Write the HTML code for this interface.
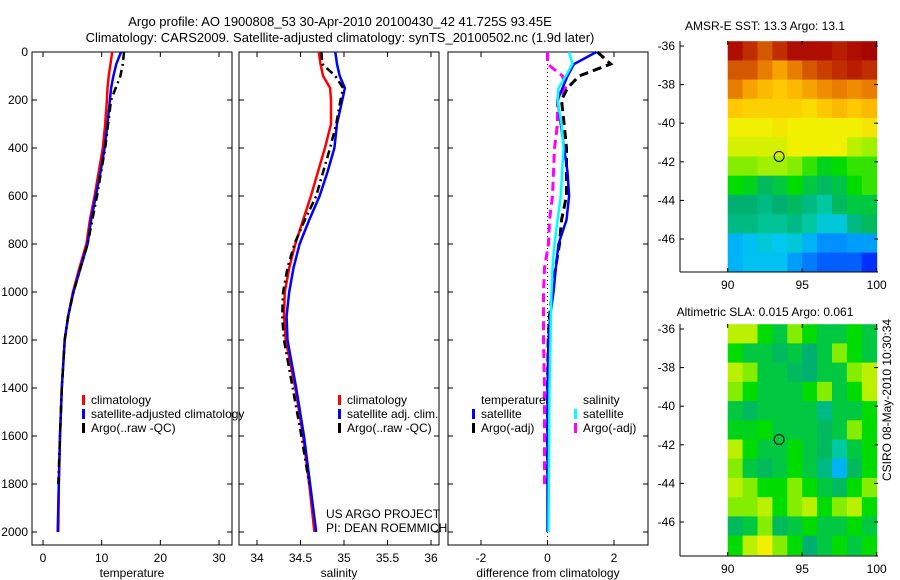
<!DOCTYPE html>
<html><head><meta charset="utf-8">
<style>
html,body{margin:0;padding:0;background:#fff;}
svg{display:block;font-family:"Liberation Sans",sans-serif;}
text{font-size:12px;fill:#000;}
</style></head>
<body>
<svg id="chart" width="900" height="580" viewBox="0 0 900 580" xmlns="http://www.w3.org/2000/svg">
<text x="340" y="26" text-anchor="middle" style="font-size:13px">Argo profile: AO 1900808_53 30-Apr-2010 20100430_42 41.725S 93.45E</text>
<text x="340" y="42" text-anchor="middle" style="font-size:13px">Climatology: CARS2009. Satellite-adjusted climatology: synTS_20100502.nc (1.9d later)</text>
<text x="765" y="30" text-anchor="middle">AMSR-E SST: 13.3 Argo: 13.1</text>
<text x="765" y="316" text-anchor="middle">Altimetric SLA: 0.015 Argo: 0.061</text>
<text transform="translate(891,400) rotate(-90)" text-anchor="middle">CSIRO 08-May-2010 10:30:34</text>
<g id="g"></g>
</svg>
<script>
// ---- data ----
const depths = [0,50,100,150,200,300,400,500,600,700,800,900,1000,1100,1200,1400,1600,1800,2000];
const tempClim = [11.8,11.5,11.2,11.0,10.9,10.6,10.2,9.5,8.8,8.0,7.4,6.2,5.1,4.3,3.7,3.2,2.9,2.7,2.6];
const tempSat  = [13.3,12.5,12.0,11.6,11.4,11.0,10.5,9.8,9.0,8.2,7.6,6.4,5.2,4.3,3.7,3.2,2.9,2.7,2.5];
const tempArgo = [13.8,13.6,13.2,12.4,11.6,11.1,10.6,9.9,9.2,8.4,7.6,6.4,5.2,4.3,3.7,3.2,2.9,2.6,null];
const salClim = [34.71,34.73,34.76,34.84,34.85,34.85,34.78,34.70,34.62,34.53,34.44,34.37,34.32,34.31,34.33,34.44,34.53,34.60,34.66];
const salSat  = [34.90,34.92,34.95,35.01,34.98,34.92,34.89,34.81,34.72,34.60,34.49,34.42,34.37,34.34,34.35,34.45,34.54,34.61,34.68];
const salArgo = [34.74,34.75,34.90,34.99,34.96,34.91,34.84,34.76,34.68,34.55,34.43,34.35,34.30,34.29,34.31,34.41,34.51,34.60,null];
const dTempSat  = [1.47,0.80,0.60,0.45,0.30,0.40,0.50,0.60,0.65,0.57,0.33,0.25,0.18,0.08,0.03,0.0,0.0,0.0,0.0];
const dTempArgo = [1.50,1.90,0.95,0.60,0.42,0.50,0.57,0.57,0.57,0.42,0.36,0.24,0.15,0.06,0.02,0.0,0.0,0.0,null];
const dSalSat   = [0.65,0.75,0.55,0.33,0.30,0.42,0.48,0.44,0.40,0.30,0.21,0.15,0.12,0.10,0.09,0.06,0.05,0.04,0.03];
const dSalArgo  = [0.0,0.0,0.45,0.54,0.30,0.30,0.21,0.18,0.15,0.06,0.03,-0.09,-0.12,-0.12,-0.12,-0.09,-0.09,-0.09,null];
const tempTicks = [0,10,20,30];
const salTicks = [34,34.5,35,35.5,36];
const diffTicks = [-2,0,2];
const depthTicks = [0,200,400,600,800,1000,1200,1400,1600,1800,2000];
const lonTicks = [90,95,100];
const latTicks = [-36,-38,-40,-42,-44,-46];
const sstGrid = [
[0.95,0.90,0.85,0.90,0.95,0.95,0.95,0.92,0.95,0.98],
[0.85,0.85,0.80,0.75,0.80,0.85,0.88,0.90,0.92,0.90],
[0.80,0.75,0.72,0.70,0.72,0.75,0.78,0.80,0.78,0.80],
[0.70,0.68,0.68,0.68,0.68,0.66,0.70,0.72,0.70,0.72],
[0.62,0.62,0.62,0.64,0.62,0.62,0.62,0.62,0.62,0.64],
[0.60,0.60,0.60,0.60,0.62,0.62,0.62,0.62,0.58,0.56],
[0.55,0.55,0.56,0.56,0.55,0.52,0.48,0.50,0.52,0.52],
[0.50,0.48,0.42,0.45,0.50,0.45,0.42,0.44,0.50,0.52],
[0.40,0.40,0.38,0.40,0.42,0.38,0.35,0.42,0.45,0.45],
[0.38,0.38,0.36,0.36,0.38,0.35,0.30,0.30,0.38,0.42],
[0.25,0.27,0.30,0.28,0.30,0.25,0.20,0.20,0.22,0.22],
[0.25,0.27,0.27,0.27,0.22,0.18,0.15,0.15,0.15,0.10]];
const slaGrid = [
[0.58,0.58,0.50,0.45,0.55,0.50,0.45,0.45,0.50,0.45],
[0.50,0.45,0.45,0.42,0.45,0.40,0.45,0.55,0.50,0.45],
[0.58,0.55,0.45,0.45,0.42,0.40,0.45,0.45,0.55,0.58],
[0.55,0.50,0.45,0.45,0.45,0.50,0.55,0.45,0.50,0.58],
[0.45,0.42,0.45,0.45,0.45,0.45,0.38,0.45,0.45,0.50],
[0.48,0.48,0.50,0.45,0.45,0.45,0.42,0.45,0.55,0.50],
[0.58,0.50,0.45,0.45,0.50,0.45,0.42,0.35,0.45,0.50],
[0.55,0.45,0.42,0.45,0.50,0.45,0.38,0.25,0.42,0.50],
[0.58,0.55,0.50,0.50,0.55,0.50,0.45,0.42,0.50,0.55],
[0.55,0.55,0.58,0.50,0.55,0.58,0.50,0.55,0.58,0.50],
[0.42,0.45,0.55,0.42,0.45,0.50,0.45,0.45,0.50,0.45],
[0.50,0.58,0.62,0.55,0.50,0.40,0.45,0.50,0.45,0.50]];
const argoLon = 93.45, argoLat = -41.725;

// ---- drawing ----
const NS='http://www.w3.org/2000/svg';
const G=document.getElementById('g');
function mk(tag,attrs,parent){const e=document.createElementNS(NS,tag);for(const k in attrs)e.setAttribute(k,attrs[k]);(parent||G).appendChild(e);return e;}
const TOP=52, BOT=545;
const yD = d => 52 + d*0.24;
function lin(d0,d1,r0,r1){return v=>r0+(v-d0)*(r1-r0)/(d1-d0);}

function panel(name,x0,x1,xs,ticks,label,fmt){
  const r=mk('rect',{x:x0,y:TOP,width:x1-x0,height:BOT-TOP,fill:'none',stroke:'#000','stroke-width':1});
  
  
  ticks.forEach(t=>{const x=xs(t);
    mk('line',{x1:x,x2:x,y1:BOT,y2:BOT-5,stroke:'#000'});
    mk('line',{x1:x,x2:x,y1:TOP,y2:TOP+5,stroke:'#000'});
    const tx=mk('text',{x:x,y:BOT+17,'text-anchor':'middle'});tx.textContent=fmt(t);
    
    
  });
  depthTicks.forEach(d=>{const y=yD(d);
    mk('line',{x1:x0,x2:x0+5,y1:y,y2:y,stroke:'#000'});
    mk('line',{x1:x1,x2:x1-5,y1:y,y2:y,stroke:'#000'});
  });
  const lt=mk('text',{x:(x0+x1)/2,y:BOT+32,'text-anchor':'middle'});lt.textContent=label;
  
  
}
function series(name,vals,xs,color,dash,w){
  let pts=[];vals.forEach((v,i)=>{if(v!==null)pts.push(xs(v).toFixed(1)+','+yD(depths[i]).toFixed(1));});
  const p=mk('polyline',{points:pts.join(' '),fill:'none',stroke:color,'stroke-width':w||2.5});
  if(dash)p.setAttribute('stroke-dasharray',dash);
  
  
}
function legend(items,x,y){
  items.forEach((it,i)=>{
    mk('rect',{x:x,y:y+i*14-9,width:3,height:10,fill:it[1]});
    const t=mk('text',{x:x+9,y:y+i*14});t.textContent=it[0];
    
    
  });
}
depthTicks.forEach(d=>{const t=mk('text',{x:28,y:yD(d)+4,'text-anchor':'end'});t.textContent=d;
  
  });

const xT=lin(0,30,43,219);
panel('temperature-panel',32,232,xT,tempTicks,'temperature',v=>v);
series('temp-climatology-line',tempClim,xT,'#ff0000');
series('temp-satellite-line',tempSat,xT,'#0000ff');
series('temp-argo-line',tempArgo,xT,'#000',"8,4,2,4");
legend([['climatology','#f00'],['satellite-adjusted climatology','#00f'],['Argo(..raw -QC)','#000']],82,404);

const xS=lin(34,36,257,431);
panel('salinity-panel',239,439,xS,salTicks,'salinity',v=>v);
series('sal-climatology-line',salClim,xS,'#ff0000');
series('sal-satellite-line',salSat,xS,'#0000ff');
series('sal-argo-line',salArgo,xS,'#000',"8,4,2,4");
mk('rect',{x:439.5,y:395,width:8,height:50,fill:'#fff'});
legend([['climatology','#f00'],['satellite adj. clim.','#00f'],['Argo(..raw -QC)','#000']],338,404);
const u1=mk('text',{x:326,y:518});u1.textContent='US ARGO PROJECT';

const u2=mk('text',{x:326,y:532});u2.textContent='PI: DEAN ROEMMICH';


const xDf=lin(-2,2,481,614);
panel('difference-panel',448,648,xDf,diffTicks,'difference from climatology',v=>v);
mk('line',{x1:xDf(0),x2:xDf(0),y1:TOP,y2:BOT-5,stroke:'#000','stroke-dasharray':'1,3'});
series('dsal-argo-line',dSalArgo,xDf,'#ff00ff',"9,5",3);
series('dtemp-argo-line',dTempArgo,xDf,'#000',"9,5",3);
series('dtemp-satellite-line',dTempSat,xDf,'#0000ff');
series('dsal-satellite-line',dSalSat,xDf,'#00ffff');
const lt1=mk('text',{x:481,y:404});lt1.textContent='temperature';

const lt2=mk('text',{x:583,y:404});lt2.textContent='salinity';

legend([['satellite','#00f'],['Argo(-adj)','#000']],472,418);
legend([['satellite','#0ff'],['Argo(-adj)','#f0f']],574,418);

// colormap approximating reference
const cmapStops=[[0,[0,0,144]],[0.1,[0,48,255]],[0.2,[0,144,255]],[0.28,[0,200,240]],[0.35,[0,200,160]],[0.4,[0,176,112]],[0.45,[0,200,64]],[0.5,[0,220,0]],[0.56,[160,240,0]],[0.62,[240,240,0]],[0.7,[255,200,0]],[0.78,[240,140,0]],[0.86,[208,80,0]],[0.93,[180,20,0]],[1,[160,0,0]]];
function cmap(v){
  v=Math.max(0,Math.min(1,v));
  for(let i=1;i<cmapStops.length;i++){
    if(v<=cmapStops[i][0]){const a=cmapStops[i-1],b=cmapStops[i];const t=(v-a[0])/(b[0]-a[0]);
      return 'rgb('+a[1].map((c,k)=>Math.round(c+(b[1][k]-c)*t)).join(',')+')';}
  }
  return 'rgb(160,0,0)';
}
function map(name,grid,top,bot){
  const xL=lin(90,100,727.7,876.7);
  const yL=lin(-36,-46,top+5,top+198);
  const X0=680,X1=878;
  const latTop=-35.75, latBot=-47.7, nR=grid.length, h=(latTop-latBot)/nR;
  grid.forEach((row,ri)=>row.forEach((v,ci)=>{
    const ya=yL(latTop-ri*h), yb=yL(latTop-(ri+1)*h);
    const c=mk('rect',{x:xL(90+ci).toFixed(1),y:ya.toFixed(1),width:(xL(91)-xL(90)+0.5).toFixed(1),height:(yb-ya+0.5).toFixed(1),fill:cmap(v)});
    
    
  }));
  mk('line',{x1:X0,x2:X0,y1:top,y2:bot,stroke:'#000'});
  mk('line',{x1:X0,x2:X1,y1:bot,y2:bot,stroke:'#000'});
  lonTicks.forEach(l=>{const x=xL(l);
    mk('line',{x1:x,x2:x,y1:bot,y2:bot-4,stroke:'#000'});
    mk('line',{x1:x,x2:x,y1:top,y2:top+4,stroke:'#000'});
    const t=mk('text',{x:x,y:bot+17,'text-anchor':'middle'});t.textContent=l;
    
    });
  latTicks.forEach(l=>{const y=yL(l);
    mk('line',{x1:X0,x2:X0+4,y1:y,y2:y,stroke:'#000'});
    mk('line',{x1:X1,x2:X1-4,y1:y,y2:y,stroke:'#000'});
    const t=mk('text',{x:X0-5,y:y+4,'text-anchor':'end'});t.textContent=l;
    
    });
  const c=mk('circle',{cx:xL(argoLon),cy:yL(argoLat),r:5,fill:'none',stroke:'#000','stroke-width':1});
  
  
}
map('sst-map',sstGrid,41,272);
map('sla-map',slaGrid,324,556);
</script>
</body></html>
